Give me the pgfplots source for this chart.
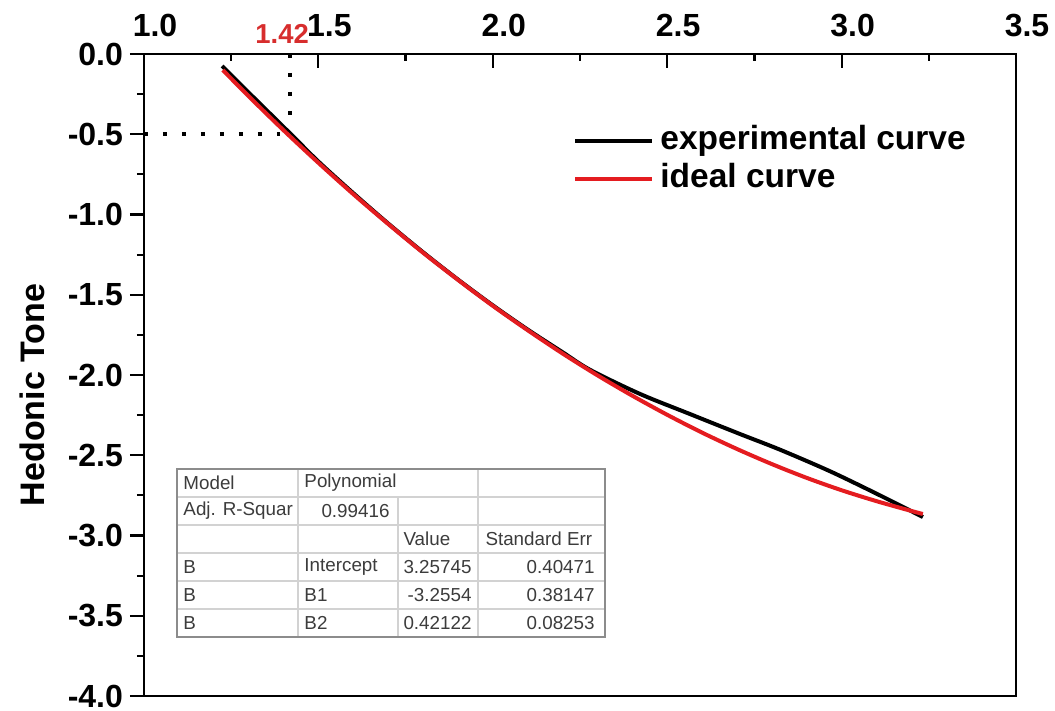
\documentclass[border=0pt]{standalone}
\usepackage{fontspec}
\setmainfont{Liberation Sans}
\usepackage{pgfplots}
\pgfplotsset{compat=1.18}
\definecolor{idealred}{RGB}{228,28,32}
\definecolor{annred}{RGB}{215,45,45}
\definecolor{tabtext}{RGB}{60,60,60}
\definecolor{tabline}{RGB}{210,210,210}
\definecolor{tabborder}{RGB}{140,140,140}
\begin{document}
\begin{tikzpicture}
\begin{axis}[
  scale only axis, width=436pt, height=321pt,
  xmin=1, xmax=3.5, ymin=-4, ymax=0,
  xtick={1.0,1.5,2.0,2.5,3.0,3.5},
  ytick={-4.0,-3.5,-3.0,-2.5,-2.0,-1.5,-1.0,-0.5,0.0},
  minor x tick num=1, minor y tick num=1,
  xtick pos=right, xticklabel pos=right, ytick pos=left,
  xtick align=inside, ytick align=outside,
  major tick length=7pt, minor tick length=3.5pt,
  axis line style={line width=1.3pt},
  every tick/.style={line width=1.1pt, black},
  tick label style={font=\fontsize{16}{16}\selectfont\bfseries},
  xticklabel style={xshift=5.5pt, yshift=5pt},
  ylabel={Hedonic Tone},
  every axis y label/.style={at={(axis description cs:-0.128,0.469)}, rotate=90, anchor=center, font=\fontsize{17}{17}\selectfont\bfseries},
  legend style={draw=none, fill=none, inner sep=0pt, at={(axis description cs:0.492,0.889)}, anchor=north west,
    font=\fontsize{16.75}{16.75}\selectfont\bfseries, row sep=3.5pt,
    nodes={inner xsep=3pt, inner ysep=0pt, text height=12pt, text depth=3.5pt}},
  legend cell align=left,
  legend image code/.code={\draw[#1] (0pt,0pt) -- (38.5pt,0pt);},
  clip=false,
  /pgf/number format/.cd, fixed, fixed zerofill, precision=1, assume math mode=true, /pgfplots/.cd,
]
% experimental curve
\addplot[black, line width=2pt, smooth] coordinates {
(1.224,-0.075) (1.30,-0.240) (1.42,-0.497) (1.50,-0.670) (1.60,-0.867)
(1.70,-1.056) (1.80,-1.235) (1.90,-1.405) (2.00,-1.566) (2.10,-1.717)
(2.20,-1.858) (2.279,-1.968) (2.422,-2.118) (2.565,-2.243) (2.709,-2.368)
(2.823,-2.465) (2.967,-2.600) (3.110,-2.750) (3.233,-2.885)
};
\addlegendentry{experimental curve}
% ideal curve
\addplot[idealred, line width=2pt, smooth] coordinates {
(1.226,-0.100) (1.30,-0.263) (1.40,-0.475) (1.50,-0.678) (1.60,-0.873)
(1.70,-1.059) (1.80,-1.238) (1.90,-1.407) (2.00,-1.569) (2.10,-1.721)
(2.20,-1.866) (2.30,-2.002) (2.40,-2.129) (2.50,-2.248) (2.60,-2.359)
(2.70,-2.461) (2.80,-2.555) (2.90,-2.641) (3.00,-2.718) (3.10,-2.786)
(3.20,-2.847) (3.233,-2.866)
};
\addlegendentry{ideal curve}
% dotted guide lines
\draw[line width=2pt, dash pattern=on 2pt off 7.5pt] (axis cs:1.0,-0.5) -- (axis cs:1.39,-0.5);
\draw[line width=2pt, dash pattern=on 2pt off 7.5pt] (axis cs:1.42,0) -- (axis cs:1.42,-0.38);
\node[text=annred, font=\fontsize{13.7}{13.7}\selectfont\bfseries] at (axis cs:1.396,0.125) {1.42};
% fit table
\fill[white] (axis cs:1.0946,-2.586) rectangle (axis cs:2.3217,-3.632);
\draw[tabline, line width=0.7pt] (axis cs:1.0946,-2.760) -- (axis cs:2.3217,-2.760);
\draw[tabline, line width=0.7pt] (axis cs:1.0946,-2.935) -- (axis cs:2.3217,-2.935);
\draw[tabline, line width=0.7pt] (axis cs:1.0946,-3.109) -- (axis cs:2.3217,-3.109);
\draw[tabline, line width=0.7pt] (axis cs:1.0946,-3.283) -- (axis cs:2.3217,-3.283);
\draw[tabline, line width=0.7pt] (axis cs:1.0946,-3.458) -- (axis cs:2.3217,-3.458);
\draw[tabline, line width=0.7pt] (axis cs:1.4415,-2.586) -- (axis cs:1.4415,-3.632);
\draw[tabline, line width=0.7pt] (axis cs:1.7282,-2.760) -- (axis cs:1.7282,-3.632);
\draw[tabline, line width=0.7pt] (axis cs:1.9576,-2.586) -- (axis cs:1.9576,-3.632);
\draw[tabborder, line width=0.9pt] (axis cs:1.0946,-2.586) rectangle (axis cs:2.3217,-3.632);
\begin{scope}[every node/.style={text=tabtext, font=\fontsize{9.4}{9.4}\selectfont, inner sep=0pt}]
\node[anchor=west] at (axis cs:1.112,-2.673) {Model};
\node[anchor=west] at (axis cs:1.459,-2.673) {Polynomial};
\node[anchor=west] at (axis cs:1.112,-2.847) {Adj. R-Squar};
\node[anchor=east] at (axis cs:1.705,-2.847) {0.99416};
\node[anchor=west] at (axis cs:1.743,-3.022) {Value};
\node[anchor=west] at (axis cs:1.978,-3.022) {Standard Err};
\node[anchor=west] at (axis cs:1.112,-3.196) {B};
\node[anchor=west] at (axis cs:1.459,-3.196) {Intercept};
\node[anchor=east] at (axis cs:1.940,-3.196) {3.25745};
\node[anchor=east] at (axis cs:2.293,-3.196) {0.40471};
\node[anchor=west] at (axis cs:1.112,-3.371) {B};
\node[anchor=west] at (axis cs:1.459,-3.371) {B1};
\node[anchor=east] at (axis cs:1.940,-3.371) {-3.2554};
\node[anchor=east] at (axis cs:2.293,-3.371) {0.38147};
\node[anchor=west] at (axis cs:1.112,-3.545) {B};
\node[anchor=west] at (axis cs:1.459,-3.545) {B2};
\node[anchor=east] at (axis cs:1.940,-3.545) {0.42122};
\node[anchor=east] at (axis cs:2.293,-3.545) {0.08253};
\end{scope}
\coordinate (bbsw) at (rel axis cs:0,0);
\coordinate (bbne) at (rel axis cs:1,1);
\end{axis}
\pgfresetboundingbox
\path[use as bounding box] ([shift={(-72pt,-7.5pt)}]bbsw) rectangle ([shift={(19.5pt,27pt)}]bbne);
\end{tikzpicture}
\end{document}
